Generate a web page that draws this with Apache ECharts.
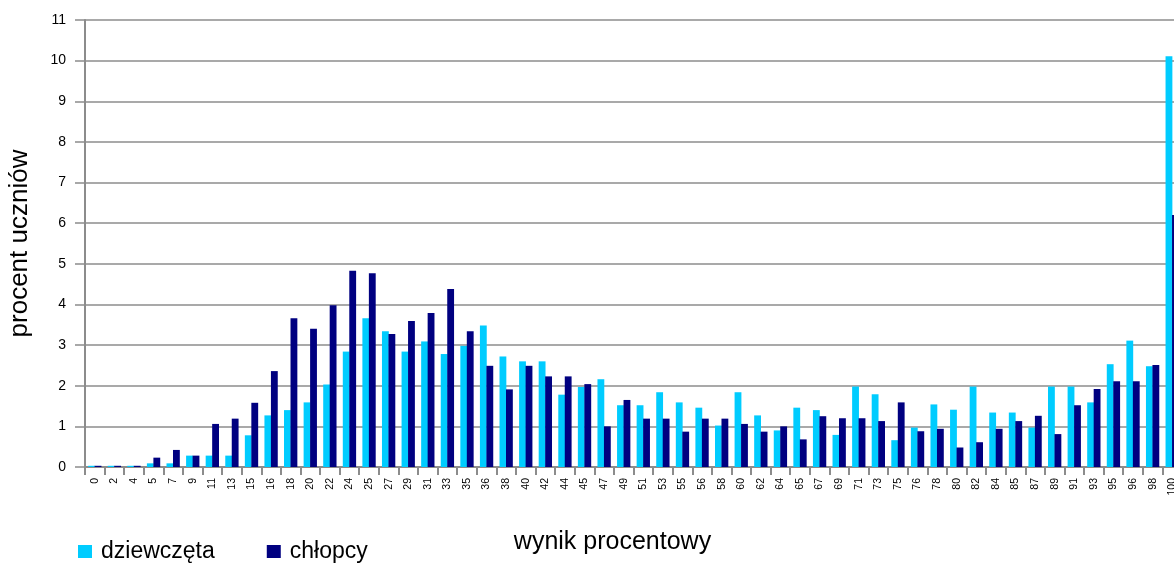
<!DOCTYPE html>
<html>
<head>
<meta charset="utf-8">
<script src="https://cdn.jsdelivr.net/npm/echarts@6/dist/echarts.min.js"></script>
<style>html,body{margin:0;padding:0;background:#fff}#c{width:1174px;height:563px}</style>
</head>
<body>
<div id="c"></div>
<script>
const categories = ['0','2','4','5','7','9','11','13','15','16','18','20','22','24','25','27','29','31','33','35','36','38','40','42','44','45','47','49','51','53','55','56','58','60','62','64','65','67','69','71','73','75','76','78','80','82','84','85','87','89','91','93','95','96','98','100'];
const girls = [0.03,0.03,0.03,0.09,0.09,0.28,0.28,0.28,0.78,1.27,1.40,1.59,2.03,2.84,3.66,3.34,2.84,3.09,2.78,2.98,3.48,2.72,2.60,2.60,1.78,1.97,2.16,1.52,1.52,1.84,1.59,1.46,1.02,1.84,1.27,0.90,1.46,1.40,0.79,1.98,1.79,0.66,0.97,1.54,1.41,1.98,1.34,1.34,0.97,1.98,1.98,1.59,2.53,3.11,2.48,10.11];
const boys = [0.03,0.03,0.03,0.23,0.42,0.28,1.06,1.19,1.58,2.36,3.66,3.40,3.98,4.83,4.77,3.27,3.59,3.79,4.38,3.34,2.49,1.91,2.49,2.23,2.23,2.04,1.00,1.65,1.19,1.19,0.87,1.19,1.19,1.06,0.87,1.00,0.68,1.25,1.20,1.20,1.13,1.59,0.88,0.94,0.48,0.61,0.94,1.13,1.26,0.81,1.52,1.92,2.11,2.11,2.51,6.20];
const yTicks = [0,1,2,3,4,5,6,7,8,9,10,11];

const font = '"Liberation Sans", Arial, sans-serif';
const chart = echarts.init(document.getElementById('c'), null, {renderer: 'canvas'});
chart.setOption({
  animation: false,
  backgroundColor: '#ffffff',
  grid: {left: 85, width: 1097, top: 20, bottom: 96, containLabel: false, outerBoundsMode: 'none'},
  legend: {
    left: 73, top: 535,
    itemWidth: 14, itemHeight: 13, itemGap: 52,
    icon: 'rect',
    textStyle: {fontFamily: font, fontSize: 23, color: '#000', padding: [0, 0, 0, 4]},
    data: ['dziewczęta', 'chłopcy']
  },
  xAxis: {
    type: 'category',
    data: categories,
    name: 'wynik procentowy',
    nameLocation: 'middle',
    nameGap: 63,
    nameTextStyle: {fontFamily: font, fontSize: 25, color: '#000', padding: [0, 42, 0, 0]},
    axisLine: {show: true, lineStyle: {color: '#8c8c8c', width: 2}},
    axisTick: {show: true, alignWithLabel: false, interval: 0, length: 8, lineStyle: {color: '#8c8c8c', width: 2}},
    axisLabel: {interval: 0, rotate: 90, margin: 11, fontFamily: font, fontSize: 10.5, color: '#000'},
    splitLine: {show: false}
  },
  yAxis: {
    type: 'value',
    min: yTicks[0], max: yTicks[yTicks.length - 1], interval: 1,
    name: 'procent uczniów',
    nameLocation: 'middle',
    nameRotate: 90,
    nameGap: 52,
    nameTextStyle: {fontFamily: font, fontSize: 26, color: '#000'},
    axisLine: {show: true, lineStyle: {color: '#8c8c8c', width: 2}},
    axisTick: {show: true, length: 10, lineStyle: {color: '#8c8c8c', width: 1.5}},
    axisLabel: {margin: 19, fontFamily: font, fontSize: 14, color: '#000'},
    splitLine: {show: true, lineStyle: {color: '#8c8c8c', width: 1.5}}
  },
  series: [
    {name: 'dziewczęta', type: 'bar', data: girls, itemStyle: {color: '#00CCFF'}, barGap: '-5%', barCategoryGap: '32%'},
    {name: 'chłopcy', type: 'bar', data: boys, itemStyle: {color: '#000080'}, barGap: '-5%', barCategoryGap: '32%'}
  ]
});
</script>
</body>
</html>
